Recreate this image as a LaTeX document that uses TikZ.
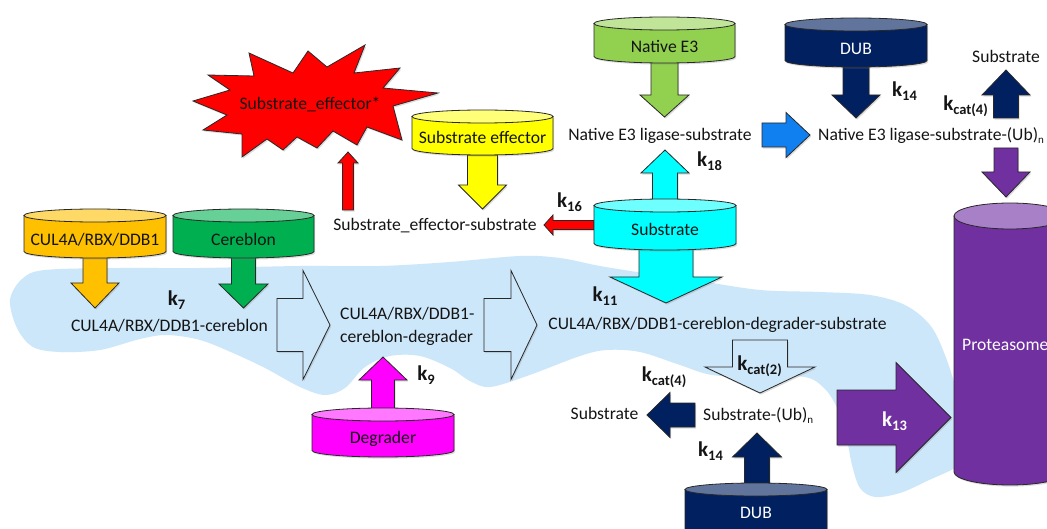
\documentclass[tikz,border=0pt]{standalone}
\usepackage{fontspec}
\setmainfont{Carlito}
\usetikzlibrary{calc,shadows}

\definecolor{blobblue}{RGB}{205,231,250}
\definecolor{cOrange}{RGB}{255,192,0}
\definecolor{cOrangeTop}{RGB}{255,217,102}
\definecolor{cGreen}{RGB}{0,176,80}
\definecolor{cGreenTop}{RGB}{102,208,150}
\definecolor{cYellow}{RGB}{255,255,0}
\definecolor{cYellowTop}{RGB}{255,255,120}
\definecolor{cLime}{RGB}{146,208,80}
\definecolor{cLimeTop}{RGB}{192,228,152}
\definecolor{cNavy}{RGB}{0,32,96}
\definecolor{cNavyTop}{RGB}{96,116,156}
\definecolor{cCyan}{RGB}{0,255,255}
\definecolor{cCyanTop}{RGB}{110,255,255}
\definecolor{cMagenta}{RGB}{255,0,255}
\definecolor{cMagentaTop}{RGB}{255,120,255}
\definecolor{cPurple}{RGB}{112,48,160}
\definecolor{cPurpleTop}{RGB}{168,128,200}
\definecolor{cRed}{RGB}{255,0,0}
\definecolor{cBlue}{RGB}{16,128,240}
\definecolor{edge}{RGB}{40,40,40}
\definecolor{ink}{RGB}{20,20,20}

\newcommand\lblfont{\fontsize{17.6}{23}\selectfont}
\newcommand\ubn{\raisebox{-3pt}{\fontsize{11}{11}\selectfont n}}
\newcommand\kk[1]{{\bfseries\fontsize{21}{21}\selectfont k\raisebox{-4.5pt}{\fontsize{14.5}{14.5}\selectfont #1}}}

% block arrow: [style]{tail}{tip}{shaft half width}{head half width}{head length}
\newcommand\blockarrow[6][]{%
  \coordinate (ba-h) at ($#3!#6!#2$);
  \path[barrow,#1] ($#2!#4!90:#3$) -- ($(ba-h)!#4!90:#3$) -- ($(ba-h)!#5!90:#3$) -- #3
    -- ($(ba-h)!#5!-90:#3$) -- ($(ba-h)!#4!-90:#3$) -- ($#2!#4!-90:#3$) -- cycle;
}
% drum: {cx}{top}{bottom}{half width}{ellipse radius}{body colour}{lid colour}
\newcommand\drum[7]{%
  \path[fill=#6, shape edge, soft shadow] (#1-#4,#2+#5) -- (#1-#4,#3-#5)
    arc[start angle=180, end angle=0, x radius=#4, y radius=#5] -- (#1+#4,#2+#5) -- cycle;
  \path[fill=#7, shape edge] (#1,#2+#5) ellipse[x radius=#4, y radius=#5];
}

\begin{document}
\begin{tikzpicture}[x=1pt,y=-1pt,
  shape edge/.style={draw=edge, line width=0.8pt, line join=miter},
  soft shadow/.style={drop shadow={opacity=0.28, shadow xshift=1.2pt, shadow yshift=-1.6pt}},
  barrow/.style={shape edge, soft shadow},
  hollow/.style={fill=blobblue, draw=edge},
  lbl/.style={inner sep=0pt, font=\lblfont, text=ink, text height=13pt, text depth=2pt},
  lbltwo/.style={inner sep=0pt, font=\lblfont, text=ink, align=left},
  klbl/.style={inner sep=0pt, text=ink}]

\useasboundingbox (0,0) rectangle (1047,529);
\clip (0,0) rectangle (1047,529);
\fill[white] (0,0) rectangle (1047,529);

% pale background region of the degrader complex
\fill[blobblue] plot[smooth cycle, tension=0.55] coordinates {
  (10,300) (22,279) (45,270) (120,268) (200,268) (300,266) (380,266) (450,262)
  (520,256) (560,258) (600,266) (650,274) (700,281) (760,290) (820,292) (870,295)
  (905,305) (930,325) (945,355) (960,400) (975,440) (965,462)
  (927,481) (900,493) (875,497) (860,488) (852,465) (847,440) (838,410) (825,389)
  (805,377) (760,377) (712,375) (680,365) (640,352) (607,350) (580,356) (527,376)
  (490,387) (470,381) (450,368) (420,356) (390,356) (365,367) (345,388) (325,395)
  (300,387) (265,368) (233,353) (200,340) (167,335) (140,339) (100,350) (60,352)
  (33,347) (17,328)};

% block arrows
\blockarrow[fill=cOrange]{(95,250)}{(95,308)}{12pt}{24pt}{25pt}
\blockarrow[fill=cGreen]{(243.5,250)}{(243.5,308)}{12pt}{24.5pt}{24pt}
\blockarrow[fill=cYellow]{(482.5,155)}{(482.5,209)}{15pt}{24pt}{24pt}
\blockarrow[fill=cLime]{(664.5,60)}{(664.5,117)}{13.5pt}{24.5pt}{22pt}
\blockarrow[fill=cNavy]{(856,62)}{(856,118)}{13pt}{24pt}{23pt}
\blockarrow[fill=cCyan]{(665,205)}{(665,150)}{12.5pt}{24pt}{23pt}
\blockarrow[fill=cBlue]{(762,135)}{(810,135)}{12pt}{22.5pt}{24pt}
\blockarrow[fill=cNavy]{(1006,118)}{(1006,70)}{12.5pt}{24pt}{25pt}
\blockarrow[fill=cPurple]{(1006,148)}{(1006,197)}{12pt}{24pt}{25pt}
\blockarrow[fill=cRed]{(348,210)}{(348,152)}{5.5pt}{10pt}{11pt}
\blockarrow[fill=cRed]{(594,225)}{(544,225)}{4.5pt}{10pt}{9pt}
\blockarrow[fill=cCyan]{(666,240)}{(666,303)}{27pt}{56pt}{26pt}
\blockarrow[fill=cMagenta]{(383,415)}{(383,357)}{11.5pt}{24pt}{23pt}
\blockarrow[fill=cNavy]{(695,415)}{(647,415)}{12pt}{22.5pt}{23pt}
\blockarrow[fill=cNavy]{(757,490)}{(757,433)}{12.5pt}{24.5pt}{24pt}
\blockarrow[fill=cPurple]{(837,417.5)}{(951,417.5)}{27.5pt}{55pt}{55pt}
\blockarrow[hollow]{(277,325)}{(330,325)}{26.5pt}{54.5pt}{27pt}
\blockarrow[hollow]{(484,325)}{(537,325)}{26.5pt}{54.5pt}{26pt}
\blockarrow[hollow]{(760,340)}{(760,393)}{27.5pt}{55pt}{26pt}

% activated effector burst
\path[fill=cRed, shape edge, soft shadow]
  (193,101) -- (230,90) -- (208,75) -- (254,76) -- (249,53) -- (293,73) -- (308,51)
  -- (327,67) -- (365,45) -- (354,73) -- (400,68) -- (383,88) -- (438,93) -- (393,106)
  -- (402,140) -- (367,127) -- (357,145) -- (333,131) -- (317,148) -- (297,137)
  -- (283,150) -- (267,139) -- (242,157) -- (242,134) -- (203,130) -- (227,115) -- cycle;

% species pools
\drum{95}{209}{258}{71}{6.5}{cOrange}{cOrangeTop}
\drum{243.5}{209}{258}{70.5}{6.5}{cGreen}{cGreenTop}
\drum{482.5}{110}{155}{70.5}{6.5}{cYellow}{cYellowTop}
\drum{664.5}{17}{63}{70.5}{6.5}{cLime}{cLimeTop}
\drum{856}{18}{67}{71}{6.5}{cNavy}{cNavyTop}
\drum{665}{199}{250}{71}{6.5}{cCyan}{cCyanTop}
\drum{383}{408}{457}{71}{6.5}{cMagenta}{cMagentaTop}
\drum{756}{483}{545}{71}{6.5}{cNavy}{cNavyTop}
\drum{1010}{203}{485}{56}{13}{cPurple}{cPurpleTop}

% texts
\node[lbl] (tCul) at (95,240) {CUL4A/RBX/DDB1};
\node[lbl] (tCrbn) at (243.5,240) {Cereblon};
\node[lbl] (tEff) at (482.5,138) {Substrate effector};
\node[lbl] (tNat) at (664.5,47) {Native E3};
\node[lbl, text=white] (tDubA) at (856,49) {DUB};
\node[lbl] (tSub) at (665,230) {Substrate};
\node[lbl] (tDeg) at (383,438) {Degrader};
\node[lbl, text=white] (tDubB) at (756,513) {DUB};
\node[lbl, text=white, anchor=west] (tProt) at (962,345) {Proteasome};
\node[lbl] (tStar) at (310,104) {Substrate\_effector*};
\node[lbl] (tEffSub) at (435,225) {Substrate\_effector-substrate};
\node[lbl] (tNatSub) at (660,135) {Native E3 ligase-substrate};
\node[lbl, anchor=west] (tNatUb) at (818,135) {Native E3 ligase-substrate-(Ub)\ubn};
\node[lbl] (tFreeA) at (1006,57) {Substrate};
\node[lbl] (tCC) at (169.5,326) {CUL4A/RBX/DDB1-cereblon};
\node[lbltwo, anchor=west] (tCCD) at (340,326.5) {CUL4A/RBX/DDB1-\\cereblon-degrader};
\node[lbl] (tCCDS) at (717.5,324) {CUL4A/RBX/DDB1-cereblon-degrader-substrate};
\node[lbl] (tFreeB) at (604.5,414) {Substrate};
\node[lbl, anchor=west] (tSubUb) at (703,415) {Substrate-(Ub)\ubn};

% rate constants
\node[klbl] (k7) at (176.5,300) {\kk{7}};
\node[klbl] (k9) at (426,375) {\kk{9}};
\node[klbl] (k11) at (605,296) {\kk{11}};
\node[klbl] (k14a) at (904.5,91) {\kk{14}};
\node[klbl] (k14b) at (710.5,451) {\kk{14}};
\node[klbl] (k16) at (569.5,202) {\kk{16}};
\node[klbl] (k18) at (709.5,161) {\kk{18}};
\node[klbl] (kc4a) at (965.5,106) {\kk{cat(4)}};
\node[klbl] (kc4b) at (664,377) {\kk{cat(4)}};
\node[klbl] (kc2) at (759.5,366) {\kk{cat(2)}};
\node[klbl, text=white] (k13) at (894.5,421) {\kk{13}};
\end{tikzpicture}
\end{document}
